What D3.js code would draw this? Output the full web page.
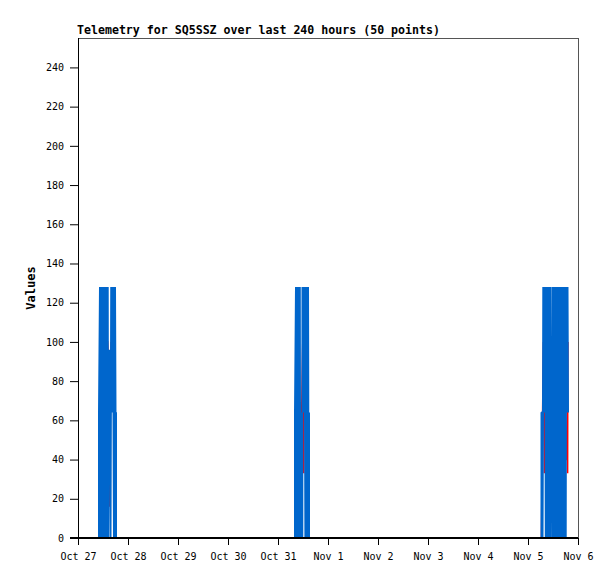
<!DOCTYPE html>
<html><head><meta charset="utf-8">
<script src="https://cdn.jsdelivr.net/npm/d3@7"></script>
<style>body{margin:0;background:#fff}</style>
</head><body>
<svg id="c" width="615" height="579"></svg>
<script>
// hours since Oct 27 00:00 (UTC)
const blueHours = [10.08,10.08,10.56,11.04,11.52,12.00,12.48,12.96,13.44,13.92,14.26,14.45,14.60,14.83,15.12,15.60,15.95,16.32,16.80,17.28,17.76,18.00,18.24,18.24,
  104.16,104.16,104.64,105.12,105.60,106.08,106.46,106.66,106.94,107.23,107.42,107.66,107.76,108.00,108.24,108.48,108.77,109.15,109.44,109.92,110.40,110.69,110.88,110.88,
  222.48,222.48,222.72,222.96,223.20,223.34,223.58,223.82,224.06,224.30,224.54,224.88,225.12,225.36,225.60,225.84,226.08,226.32,226.56,226.80,227.04,227.28,227.57,227.90,
  228.14,228.38,228.62,228.86,229.10,229.34,229.58,229.87,230.06,230.40,230.74,231.07,231.41,231.74,232.08,232.42,232.75,233.09,233.42,233.76,234.10,234.29,234.72,234.96,235.20];
const blueValues = [0,64,128,0,128,0,128,0,128,0,128,0,96,34,96,0,128,64,128,0,128,64,64,0,
  0,64,128,0,128,0,128,0,64,0,64,0,128,64,128,64,128,0,128,0,128,0,64,0,
  0,64,64,0,64,128,64,128,64,128,0,128,0,128,0,128,0,128,0,128,34,96,0,128,
  0,128,0,128,0,128,64,128,0,128,0,128,0,128,0,128,0,128,0,128,0,128,64,128,64];
const redHours = [10.08,10.56,12.48,14.16,14.70,15.02,15.07,15.12,15.95,17.76,18.24,
  104.16,104.64,107.04,107.90,108.33,108.38,108.43,109.00,109.44,110.88,
  222.48,222.86,223.44,223.82,223.87,223.92,224.88,226.80,227.04,227.06,227.09,227.76,234.24,234.95,235.00,235.05,235.15];
const redValues = [0,64,100,100,90,32,16,32,100,64,0,
  0,64,40,100,66,33,66,100,50,0,
  0,50,100,66,33,66,100,100,32,16,32,40,40,66,33,66,100];
const xTickLabels = ["Oct 27","Oct 28","Oct 29","Oct 30","Oct 31","Nov 1","Nov 2","Nov 3","Nov 4","Nov 5","Nov 6"];
const yTicks = [0,20,40,60,80,100,120,140,160,180,200,220,240];
const title = "Telemetry for SQ5SSZ over last 240 hours (50 points)";

const t0 = Date.UTC(2023, 9, 27);
const H = 3600e3;
const svg = d3.select("#c");
const L = 78, R = 578, T = 38, B = 538;
const x = d3.scaleUtc().domain([new Date(t0), new Date(t0 + 240*H)]).range([L, R]);
const y = d3.scaleLinear().domain([0, 255]).range([B, T]);
const mono = "'DejaVu Sans Mono', monospace";

// frame
svg.append("rect").attr("x", L+0.5).attr("y", T+0.5).attr("width", R-L).attr("height", B-T)
  .attr("fill", "none").attr("stroke", "#555").attr("stroke-width", 1);

const line = d3.line().x(d => x(new Date(t0 + d[0]*H))).y(d => y(d[1]));
const red = redHours.map((h,i)=>[h, redValues[i]]);
const blue = blueHours.map((h,i)=>[h, blueValues[i]]);
svg.append("path").attr("d", line(red)).attr("fill","none").attr("stroke","#ff0000").attr("stroke-width",1.6);
svg.append("path").attr("d", line(blue)).attr("fill","none").attr("stroke","#0066cc").attr("stroke-width",2)
  .attr("stroke-linejoin","bevel");

// axes
const xa = d3.axisBottom(x).tickValues(xTickLabels.map((_,i)=>new Date(t0 + i*24*H)))
  .tickFormat((d,i)=>xTickLabels[i]).tickSize(7).tickSizeOuter(0);
const gx = svg.append("g").attr("transform", `translate(0,${B})`).call(xa);
gx.select(".domain").attr("stroke-width", 2).attr("d", `M${L-8},0H${R}`);
gx.selectAll("text").attr("font-family", mono).attr("font-size", 10).attr("fill","#000").attr("dy","1.2em");

const ya = d3.axisLeft(y).tickValues(yTicks).tickSize(8).tickSizeOuter(0);
const gy = svg.append("g").attr("transform", `translate(${L},0)`).call(ya);
gy.select(".domain").attr("d", `M0.5,${T}V${B+2}`).attr("stroke-width",1);
gy.selectAll("text").attr("font-family", mono).attr("font-size", 10).attr("fill","#000").attr("x", -14);

svg.append("text").attr("x", L-1).attr("y", 34).attr("font-family", mono).attr("font-weight","bold")
  .attr("font-size", 11.6).text(title);
svg.append("text").attr("transform", `translate(35,${(T+B)/2+0}) rotate(-90)`).attr("text-anchor","middle")
  .attr("font-family", mono).attr("font-weight","bold").attr("font-size", 12).text("Values");
</script>
</body></html>
